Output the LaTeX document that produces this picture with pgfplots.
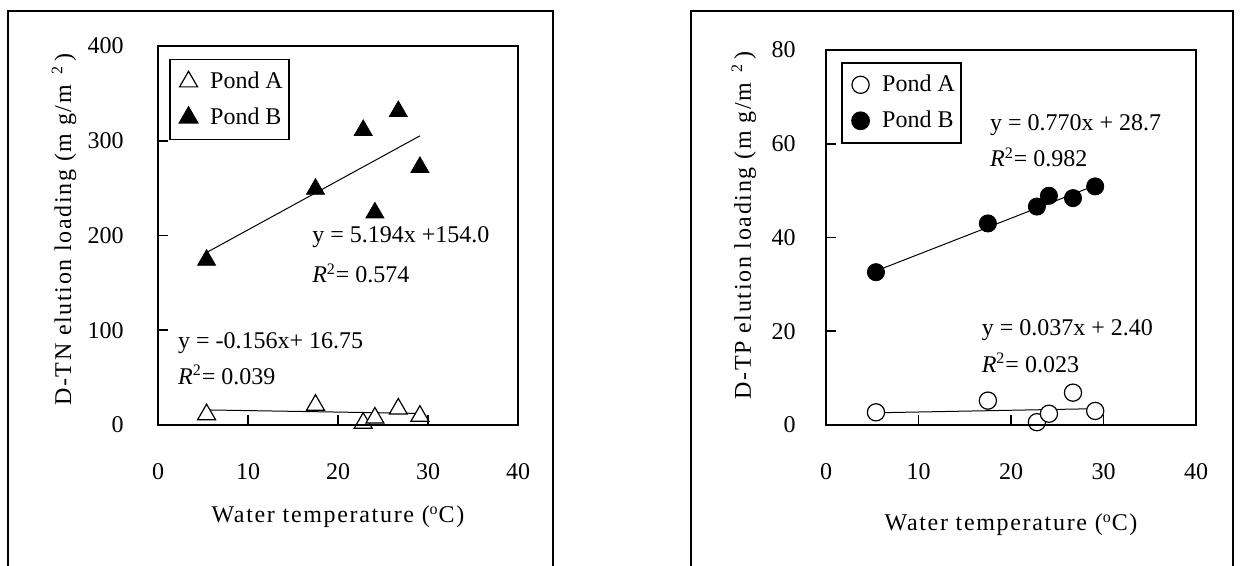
\documentclass[border=0pt,12pt]{standalone}
\usepackage{fontspec}
\setmainfont{Liberation Serif}
\newfontfamily\labelfont{Liberation Serif}[LetterSpace=7]
\usepackage{pgfplots}
\pgfplotsset{compat=1.18}
\pgfplotsset{
  panel/.style={
    scale only axis, anchor=south west, clip=false,
    xmin=0, xmax=40, xtick={0,10,20,30,40},
    tick align=inside,
    major tick length=5pt,
    axis line style={line width=1pt, black}, every tick/.style={line width=0.8pt,black},
    /pgf/number format/assume math mode=true,
    xticklabel style={yshift=-15pt},
    every axis x label/.style={anchor=center, font=\labelfont},
    every axis y label/.style={anchor=center, rotate=90, font=\labelfont},
    legend cell align=left,
    legend image code/.code={\path[draw=none,fill=none] (-8.3pt,0pt) -- (8.8pt,0pt); \draw[#1] plot coordinates {(0pt,0pt)};},
    legend style={anchor=north west, draw=black, line width=0.8pt, inner xsep=1pt, inner ysep=2pt,
      row sep=0pt, nodes={inner sep=2pt, line width=0.5pt, minimum height=18pt}},
  },
  openA/.style={only marks, black, fill=white, line width=0.6pt},
  closedB/.style={only marks, black, fill=black},
  trend/.style={black, line width=0.5pt, no marks, forget plot},
}
\begin{document}
\begin{tikzpicture}[x=1pt,y=1pt]
\useasboundingbox (0,0) rectangle (622.5,283);
\draw[line width=0.6pt] (4,0) -- (4,277.5) -- (276.5,277.5) -- (276.5,0);
\draw[line width=0.6pt] (345.5,0) -- (345.5,277.5) -- (616.5,277.5) -- (616.5,0);
% Left panel
\begin{axis}[panel, at={(79pt,70.5pt)}, width=180pt, height=189.5pt,
  ymin=0, ymax=400, ytick={0,100,200,300,400},
  xtick pos=bottom, ytick pos=left,
  yticklabel style={xshift=-13pt},
  xlabel={Water temperature (\textsuperscript{o}C)},
  xlabel style={at={(axis description cs:0.5,-0.243)}},
  ylabel={D-TN elution loading (m g/m \textsuperscript{\,2}\,)},
  ylabel style={at={(axis description cs:-0.261,0.515)}},
  legend style={at={(0.031,0.966)}},
]
\addplot[openA, mark=triangle*, mark size=5.2pt] coordinates {
 (5.4,11) (17.5,21) (22.8,2) (24.1,7.5) (26.7,17) (29.1,9.4)};
\addlegendentry{Pond A}
\addplot[closedB, mark=triangle*, mark size=5.2pt] coordinates {
 (5.4,174) (17.5,249) (22.8,311) (24.1,224) (26.7,331) (29.1,272)};
\addlegendentry{Pond B}
\addplot[trend] coordinates {(5.4,15.91) (29.1,12.21)};
\addplot[trend] coordinates {(5.4,182.05) (29.1,305.15)};
\node[anchor=west, inner sep=0pt] at (axis cs:17.1,198) {y = 5.194x +154.0};
\node[anchor=west, inner sep=0pt] at (axis cs:17.1,160) {\textit{R}\textsuperscript{2}= 0.574};
\node[anchor=west, inner sep=0pt] at (axis cs:2.2,86.8) {y = -0.156x+ 16.75};
\node[anchor=west, inner sep=0pt] at (axis cs:2.2,52.8) {\textit{R}\textsuperscript{2}= 0.039};
\end{axis}
% Right panel
\begin{axis}[panel, at={(413pt,70.5pt)}, width=185pt, height=187.5pt,
  ymin=0, ymax=80, ytick={0,20,40,60,80},
  xtick pos=bottom, ytick pos=left,
  yticklabel style={xshift=-11pt},
  xlabel={Water temperature (\textsuperscript{o}C)},
  xlabel style={at={(axis description cs:0.5,-0.267)}},
  ylabel={D-TP elution loading (m g/m \textsuperscript{\,2}\,)},
  ylabel style={at={(axis description cs:-0.222,0.532)}},
  legend style={at={(0.041,0.968)}},
]
\addplot[openA, mark=*, mark size=4.3pt] coordinates {
 (5.4,2.7) (17.5,5.2) (22.8,0.6) (24.1,2.4) (26.7,6.9) (29.1,3.0)};
\addlegendentry{Pond A}
\addplot[closedB, mark=*, mark size=4.3pt] coordinates {
 (5.4,32.6) (17.5,43) (22.8,46.6) (24.1,48.9) (26.7,48.4) (29.1,50.9)};
\addlegendentry{Pond B}
\addplot[trend] coordinates {(5.4,2.60) (29.1,3.48)};
\addplot[trend] coordinates {(5.4,32.86) (29.1,51.11)};
\node[anchor=west, inner sep=0pt] at (axis cs:17.7,64) {y = 0.770x + 28.7};
\node[anchor=west, inner sep=0pt] at (axis cs:17.7,57.1) {\textit{R}\textsuperscript{2}= 0.982};
\node[anchor=west, inner sep=0pt] at (axis cs:16.8,20.2) {y = 0.037x + 2.40};
\node[anchor=west, inner sep=0pt] at (axis cs:16.8,13.3) {\textit{R}\textsuperscript{2}= 0.023};
\end{axis}
\draw[line width=1pt] (79,70.5) rectangle (259,260);
\draw[line width=1pt] (413,70.5) rectangle (598,258);
\end{tikzpicture}
\end{document}
